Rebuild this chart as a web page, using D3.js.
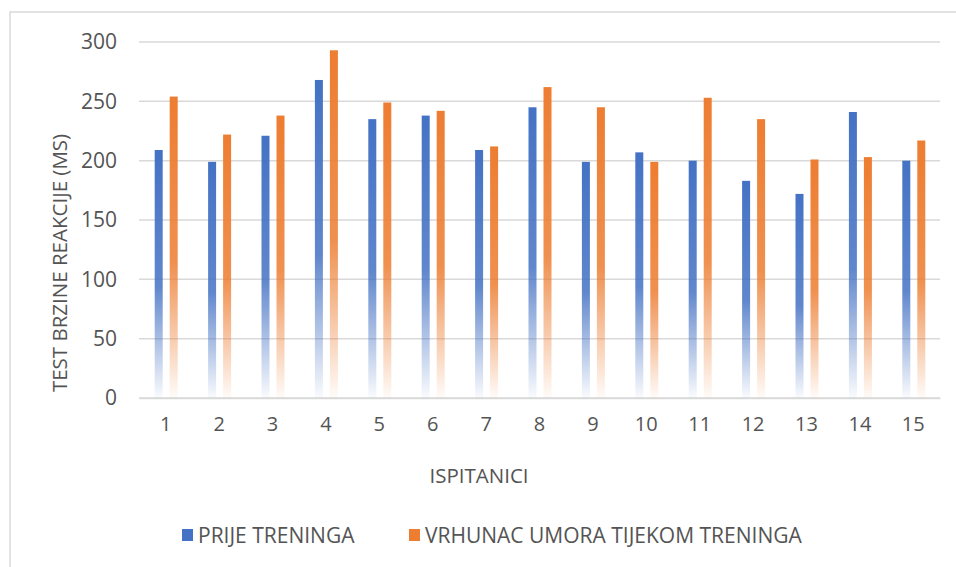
<!DOCTYPE html>
<html lang="hr">
<head>
<meta charset="UTF-8">
<title>Test brzine reakcije</title>
<script src="https://d3js.org/d3.v7.min.js"></script>
<style>
    body { margin: 0; background: #fff; }
    svg { display: block; font-family: "Open Sans", sans-serif; }
    .tick text { fill: #545454; }
</style>
</head>
<body>
<svg id="chart" width="956" height="567"></svg>
<script>
    // data
    const subjects = ["1", "2", "3", "4", "5", "6", "7", "8", "9", "10", "11", "12", "13", "14", "15"];
    const seriesNames = ["PRIJE TRENINGA", "VRHUNAC UMORA TIJEKOM TRENINGA"];
    const beforeTraining = [209, 199, 221, 268, 235, 238, 209, 245, 199, 207, 200, 183, 172, 241, 200];
    const peakFatigue = [254, 222, 238, 293, 249, 242, 212, 262, 245, 199, 253, 235, 201, 203, 217];
    const yTicks = [0, 50, 100, 150, 200, 250, 300];
    const colors = ["#4472C4", "#ED7D31"];

    const svg = d3.select("#chart");
    const margin = { top: 42, right: 16, bottom: 169, left: 139 };
    const width = 956 - margin.left - margin.right;
    const height = 567 - margin.top - margin.bottom;

    // chart frame (top and left edge visible)
    svg.append("path")
        .attr("d", "M10,600 L10,12 L960,12")
        .attr("fill", "none")
        .attr("stroke", "#d9d9d9")
        .attr("stroke-width", 1.5);

    const defs = svg.append("defs");
    colors.forEach((c, i) => {
        const grad = defs.append("linearGradient")
            .attr("id", "grad" + i)
            .attr("x1", 0).attr("y1", 0).attr("x2", 0).attr("y2", 1);
        grad.append("stop").attr("offset", "0%").attr("stop-color", c).attr("stop-opacity", 1);
        grad.append("stop").attr("offset", "55%").attr("stop-color", c).attr("stop-opacity", 0.85);
        grad.append("stop").attr("offset", "100%").attr("stop-color", c).attr("stop-opacity", 0.03);
    });

    const g = svg.append("g").attr("transform", `translate(${margin.left},${margin.top})`);

    const x = d3.scaleBand().domain(subjects).range([0, width]).paddingInner(0).paddingOuter(0);
    const y = d3.scaleLinear().domain([0, 300]).range([height, 0]);
    const barW = 8;
    const offsets = [-11, 4];

    // gridlines
    g.append("g")
        .selectAll("line")
        .data(yTicks)
        .join("line")
        .attr("x1", 0).attr("x2", width)
        .attr("y1", d => y(d)).attr("y2", d => y(d))
        .attr("stroke", "#d9d9d9")
        .attr("stroke-width", 1.5);

    const rows = subjects.map((s, i) => ({ s, v: [beforeTraining[i], peakFatigue[i]] }));

    [0, 1].forEach(k => {
        g.append("g")
            .selectAll("rect")
            .data(rows)
            .join("rect")
            .attr("x", d => x(d.s) + x.bandwidth() / 2 + offsets[k])
            .attr("y", d => y(d.v[k]))
            .attr("width", barW)
            .attr("height", d => height - y(d.v[k]))
            .attr("fill", `url(#grad${k})`);
    });

    // y axis
    const yAxis = g.append("g")
        .call(d3.axisLeft(y).tickValues(yTicks).tickSize(0).tickPadding(22));
    yAxis.select(".domain").remove();
    yAxis.selectAll("text").attr("font-size", 21).attr("font-family", "Open Sans");

    // x axis
    const xAxis = g.append("g")
        .attr("transform", `translate(0,${height})`)
        .call(d3.axisBottom(x).tickSize(0).tickPadding(19));
    xAxis.select(".domain").attr("stroke", "#d9d9d9").attr("stroke-width", 1.5);
    xAxis.selectAll("text").attr("font-size", 20).attr("font-family", "Open Sans");

    // axis titles
    svg.append("text")
        .attr("transform", "translate(67,263) rotate(-90)")
        .attr("text-anchor", "middle")
        .attr("fill", "#545454")
        .attr("font-size", 20.5)
        .text("TEST BRZINE REAKCIJE (MS)");

    svg.append("text")
        .attr("x", 479).attr("y", 483)
        .attr("text-anchor", "middle")
        .attr("fill", "#545454")
        .attr("font-size", 20.5)
        .text("ISPITANICI");

    // legend
    const legendX = [182, 409];
    const legend = svg.append("g")
        .selectAll("g")
        .data(seriesNames)
        .join("g")
        .attr("transform", (d, i) => `translate(${legendX[i]},529)`);
    legend.append("rect")
        .attr("width", 11).attr("height", 12)
        .attr("fill", (d, i) => colors[i]);
    legend.append("text")
        .attr("x", 16).attr("y", 13.5)
        .attr("fill", "#545454")
        .attr("font-size", 21)
        .text(d => d);
</script>
</body>
</html>
